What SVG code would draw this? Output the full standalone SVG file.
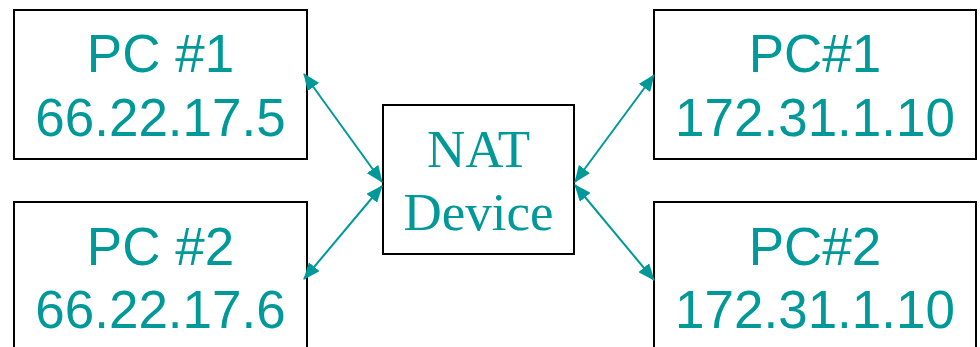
<svg xmlns="http://www.w3.org/2000/svg" width="980" height="347" viewBox="0 0 980 347">
<style>
.box{fill:#fff;stroke:#000;stroke-width:2}
.t{font-family:"Liberation Sans",Arial,sans-serif;font-size:53px;fill:#009999;text-anchor:middle}
.ts{font-family:"Liberation Serif","Times New Roman",serif;font-size:53px;fill:#009999;text-anchor:middle}
.c{stroke:#009999;stroke-width:2;fill:none;marker-start:url(#ah);marker-end:url(#ah)}
</style>
<defs>
<marker id="ah" markerUnits="userSpaceOnUse" markerWidth="18" markerHeight="14" refX="16" refY="7" orient="auto-start-reverse">
<path d="M0,0 L17,7 L0,14 z" fill="#009999"/>
</marker>
</defs>
<rect width="980" height="347" fill="#fff"/>
<g id="pc1-left">
<rect class="box" x="14" y="10" width="293" height="149"/>
<text class="t" x="160.5" y="72">PC #1</text>
<text class="t" x="160.5" y="136">66.22.17.5</text>
</g>
<g id="pc2-left">
<rect class="box" x="14" y="202" width="293" height="160"/>
<text class="t" x="160.5" y="265">PC #2</text>
<text class="t" x="160.5" y="328">66.22.17.6</text>
</g>
<g id="nat">
<rect class="box" x="383" y="105" width="191" height="149"/>
<text class="ts" x="478.5" y="167">NAT</text>
<text class="ts" x="478.5" y="230">Device</text>
</g>
<g id="pc1-right">
<rect class="box" x="654" y="10" width="322" height="149"/>
<text class="t" x="815" y="72">PC#1</text>
<text class="t" x="815" y="136">172.31.1.10</text>
</g>
<g id="pc2-right">
<rect class="box" x="654" y="202" width="322" height="160"/>
<text class="t" x="815" y="265">PC#2</text>
<text class="t" x="815" y="328">172.31.1.10</text>
</g>
<g id="connectors">
<line class="c" x1="304" y1="74" x2="382" y2="182"/>
<line class="c" x1="382" y1="186" x2="304" y2="279"/>
<line class="c" x1="575" y1="182" x2="654" y2="75"/>
<line class="c" x1="575" y1="185" x2="654" y2="280"/>
</g>
</svg>
